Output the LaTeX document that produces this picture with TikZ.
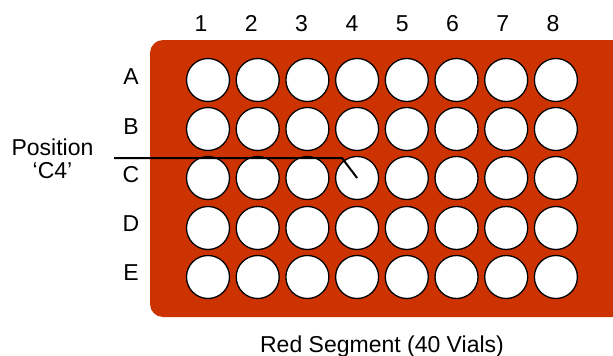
\documentclass[tikz,border=0pt]{standalone}
\usepackage{fontspec}
\setmainfont{Liberation Sans}
\definecolor{segred}{HTML}{CC3300}

\begin{document}
\begin{tikzpicture}[
    x=1pt, y=-1pt,
    plate/.style={fill=segred, draw=none, rounded corners=13pt},
    vial/.style={circle, draw, fill=white, line width=1.3pt, minimum size=43pt, inner sep=0pt},
    lbl/.style={font=\fontsize{23}{23}\selectfont, inner sep=0pt, anchor=base},
    pointer/.style={line width=2pt} % Leader line to one vial
]
    \useasboundingbox (0,0) rectangle (613,356);

    % Red plate
    \fill[plate] (150,40) rectangle (625,317);

    % Vials, 5 rows by 8 columns
    \foreach \r/\y in {A/80, B/129, C/178, D/228, E/277} {
        \foreach \c in {1,...,8} {
            \node[vial] (v\r\c) at ({208+49.7*(\c-1)}, \y) {};
        }
    }

    % Column numbers
    \foreach \c in {1,...,8} {
        \node[lbl] (col\c) at ({201+50.3*(\c-1)}, 31) {\c};
    }

    % Row letters
    \node[lbl] (rowA) at (131, 84.5) {A};
    \node[lbl] (rowB) at (131, 134.5) {B};
    \node[lbl] (rowC) at (131, 182.5) {C};
    \node[lbl] (rowD) at (131, 231.5) {D};
    \node[lbl] (rowE) at (131, 280.5) {E};

    % Position label and its leader line
    \node[lbl] (pos) at (52.5, 155.7) {Position};
    \node[lbl] (posC4) at (52.5, 178.3) {‘C4’};
    \coordinate (lead) at (114, 158);
    \coordinate (bend) at (342, 158);
    \draw[pointer] (lead) -- (bend) -- (vC4.center);

    % Caption
    \node[lbl] (caption) at (382, 352) {Red Segment (40 Vials)};

\end{tikzpicture}
\end{document}
